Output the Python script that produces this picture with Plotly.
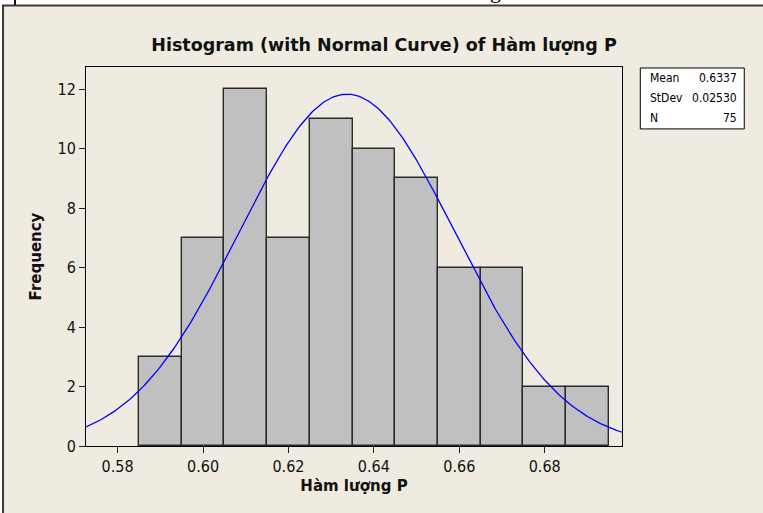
import numpy as np
import plotly.graph_objects as go

# ---- data ----
bin_centers = [0.59, 0.60, 0.61, 0.62, 0.63, 0.64, 0.65, 0.66, 0.67, 0.68, 0.69]
counts = [3, 7, 12, 7, 11, 10, 9, 6, 6, 2, 2]
bin_width = 0.01
stat_labels = ["Mean", "StDev", "N"]
stat_values = ["0.6337", "0.02530", "75"]
mean_val = 0.6337
sd_val = 0.02530
n_val = 75
x_ticks = [0.58, 0.60, 0.62, 0.64, 0.66, 0.68]
x_ticktext = ["0.58", "0.60", "0.62", "0.64", "0.66", "0.68"]
y_ticks = [0, 2, 4, 6, 8, 10, 12]

W, H = 763, 513
L, R, T, B = 85.5, 621.7, 67.0, 446.5
x_range = [0.5726, 0.6981]
y_range = [0, 12.74]

def fx(px):
    return (px - L) / (R - L)

def fy(py):
    return (B - py) / (B - T)

FONT = "DejaVu Sans Condensed, Tahoma, DejaVu Sans, sans-serif"
BFONT = "DejaVu Sans, Tahoma, sans-serif"
BEIGE = "#EFEBE1"

# normal curve from the reported statistics
xc = np.linspace(x_range[0], x_range[1], 300)
yc = n_val * bin_width * np.exp(-0.5 * ((xc - mean_val) / sd_val) ** 2) / (sd_val * np.sqrt(2 * np.pi))

fig = go.Figure()
fig.add_trace(go.Bar(
    x=bin_centers, y=counts, width=[bin_width] * len(bin_centers),
    marker=dict(color="#C0C0C0", line=dict(color="#2B2B2B", width=1.4)),
    hoverinfo="x+y", showlegend=False,
))
fig.add_trace(go.Scatter(
    x=xc, y=yc, mode="lines", line=dict(color="#0000FF", width=1.3),
    showlegend=False, hoverinfo="skip",
))

shapes = [
    # beige page frame
    dict(type="rect", xref="paper", yref="paper", x0=fx(2.5), x1=fx(800), y0=fy(5.5), y1=fy(560),
         fillcolor=BEIGE, line=dict(color="#3A3A3A", width=2), layer="below"),
    # document line fragment on top
    dict(type="line", xref="paper", yref="paper", x0=fx(14.5), x1=fx(14.5), y0=fy(-2), y1=fy(5),
         line=dict(color="#111111", width=2)),
    # stats box
    dict(type="rect", xref="paper", yref="paper", x0=fx(640), x1=fx(744), y0=fy(68), y1=fy(129),
         fillcolor="white", line=dict(color="black", width=1)),
]

annotations = []
row_y = [78, 98, 118]
for lab, val, ry in zip(stat_labels, stat_values, row_y):
    annotations.append(dict(xref="paper", yref="paper", x=fx(648), y=fy(ry), text=lab,
                            xanchor="left", yanchor="middle", showarrow=False,
                            font=dict(family=FONT, size=12, color="black")))
    annotations.append(dict(xref="paper", yref="paper", x=fx(739), y=fy(ry), text=val,
                            xanchor="right", yanchor="middle", showarrow=False,
                            font=dict(family=FONT, size=12, color="black")))
# cut-off glyph of the surrounding document text
annotations.append(dict(xref="paper", yref="paper", x=fx(495), y=fy(5), text="g",
                        xanchor="center", yanchor="bottom", showarrow=False,
                        font=dict(family="Liberation Serif", size=22, color="black")))

fig.update_layout(
    width=W, height=H,
    margin=dict(l=L, r=W - R, t=T, b=H - B, pad=0),
    paper_bgcolor="white", plot_bgcolor="white",
    bargap=0,
    title=dict(text="<b>Histogram (with Normal Curve) of Hàm lượng P</b>",
               x=384 / W, xref="container", xanchor="center",
               y=1 - 45 / H, yref="container", yanchor="middle",
               font=dict(family=BFONT, size=17.5, color="#111111")),
    xaxis=dict(range=x_range, tickvals=x_ticks, ticktext=x_ticktext,
               showgrid=False, zeroline=False, showline=True, mirror=True,
               linecolor="black", linewidth=1, ticks="outside", ticklen=6,
               tickcolor="#222222", tickfont=dict(family=FONT, size=16, color="#111111"),
               title=dict(text="<b>Hàm lượng P</b>", standoff=5,
                          font=dict(family=BFONT, size=15, color="#111111"))),
    yaxis=dict(range=y_range, tickvals=y_ticks,
               showgrid=False, zeroline=False, showline=True, mirror=True,
               linecolor="black", linewidth=1, ticks="outside", ticklen=6,
               tickcolor="#222222", tickfont=dict(family=FONT, size=16, color="#111111"),
               title=dict(text="<b>Frequency</b>", standoff=12,
                          font=dict(family=BFONT, size=15, color="#111111"))),
    shapes=shapes,
    annotations=annotations,
)

fig.write_html("out.html",
               config={"displayModeBar": False},
               post_script="document.body.style.margin='0';document.body.style.padding='0';")
